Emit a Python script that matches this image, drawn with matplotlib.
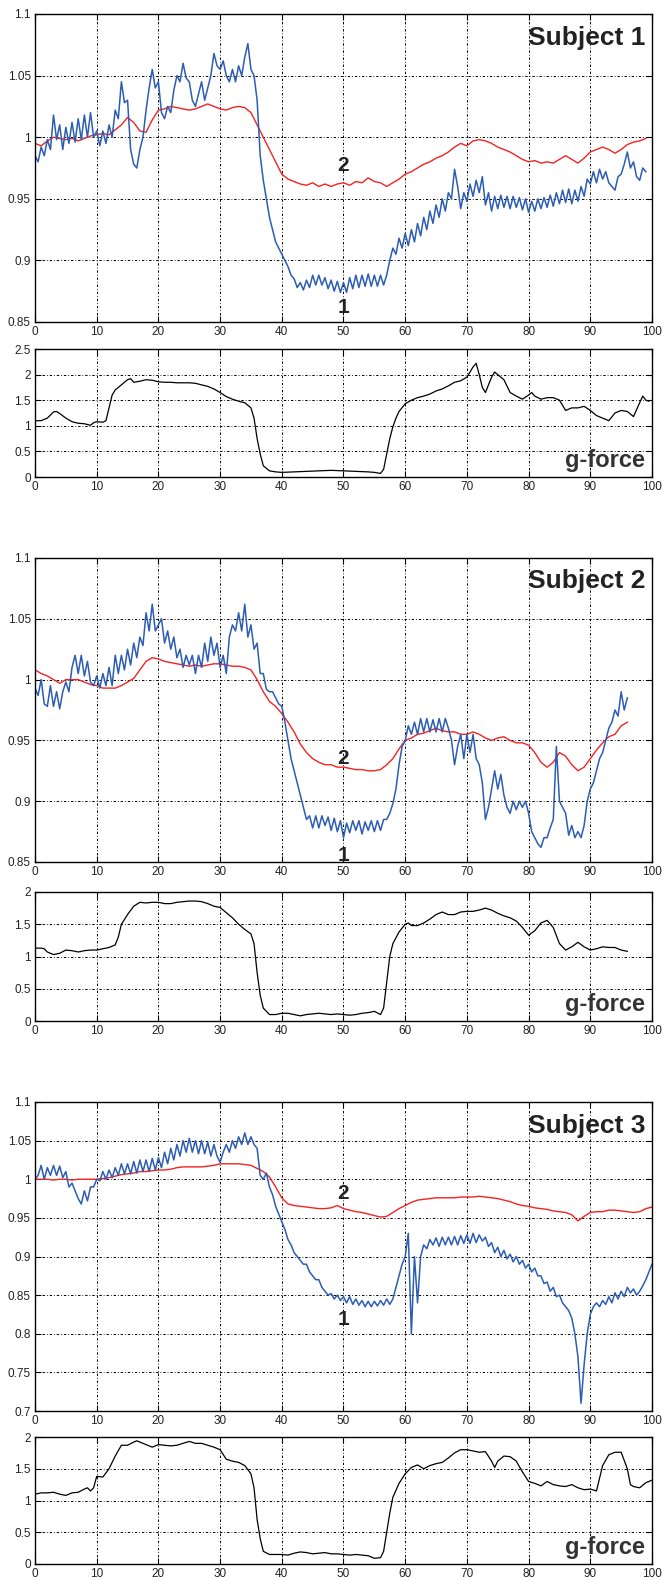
import numpy as np
import matplotlib.pyplot as plt
from matplotlib.ticker import FuncFormatter

plt.rcParams['font.family'] = ['Liberation Sans', 'DejaVu Sans']

BLUE_STEP = 0.5   # blue traces sampled every half unit
RED_STEP = 1.0

# ---------------- Subject 1 ----------------
s1_blue = [
    0.985, 0.980, 0.992, 0.985, 0.998, 0.990, 1.018, 0.998, 1.010, 0.990,
    1.008, 0.995, 1.012, 0.996, 1.015, 0.998, 1.018, 1.000, 1.020, 1.000,
    1.005, 0.993, 1.005, 0.995, 1.010, 1.000, 1.022, 1.015, 1.045, 1.028,
    1.030, 0.990, 0.978, 0.975, 0.990, 1.000, 1.022, 1.040, 1.055, 1.040,
    1.045, 1.020, 1.015, 1.025, 1.020, 1.038, 1.050, 1.045, 1.060, 1.048,
    1.045, 1.030, 1.025, 1.035, 1.045, 1.030, 1.040, 1.050, 1.068, 1.058,
    1.055, 1.062, 1.050, 1.045, 1.055, 1.045, 1.058, 1.050, 1.065, 1.076,
    1.055, 1.050, 1.030, 0.985, 0.965, 0.950, 0.935, 0.925, 0.915, 0.910,
    0.905, 0.900, 0.895, 0.888, 0.885, 0.878, 0.882, 0.876, 0.884, 0.878,
    0.888, 0.880, 0.888, 0.880, 0.886, 0.877, 0.884, 0.875, 0.883, 0.874,
    0.882, 0.874, 0.886, 0.877, 0.888, 0.878, 0.888, 0.879, 0.889, 0.879,
    0.888, 0.879, 0.888, 0.880, 0.888, 0.900, 0.910, 0.905, 0.918, 0.910,
    0.922, 0.912, 0.925, 0.915, 0.930, 0.920, 0.935, 0.925, 0.940, 0.930,
    0.945, 0.935, 0.950, 0.940, 0.955, 0.950, 0.974, 0.960, 0.942, 0.955,
    0.948, 0.962, 0.952, 0.965, 0.955, 0.968, 0.945, 0.955, 0.940, 0.952,
    0.942, 0.953, 0.943, 0.952, 0.942, 0.952, 0.943, 0.951, 0.941, 0.950,
    0.939, 0.948, 0.940, 0.950, 0.942, 0.951, 0.943, 0.953, 0.944, 0.955,
    0.946, 0.957, 0.947, 0.958, 0.946, 0.957, 0.948, 0.960, 0.952, 0.966,
    0.962, 0.972, 0.963, 0.974, 0.966, 0.972, 0.963, 0.960, 0.957, 0.968,
    0.970, 0.978, 0.988, 0.975, 0.980, 0.968, 0.965, 0.975, 0.972,
]
s1_red = [
    0.995, 0.993, 0.997, 1.000, 0.999, 0.998, 0.999, 0.997, 0.999, 1.001,
    1.002, 1.003, 1.002, 1.006, 1.010, 1.016, 1.012, 1.005, 1.004, 1.014,
    1.022, 1.023, 1.025, 1.024, 1.023, 1.022, 1.023, 1.025, 1.027, 1.025,
    1.023, 1.022, 1.024, 1.025, 1.024, 1.020, 1.010, 1.000, 0.990, 0.980,
    0.970, 0.966, 0.964, 0.962, 0.961, 0.963, 0.960, 0.962, 0.960, 0.962,
    0.963, 0.961, 0.964, 0.963, 0.967, 0.964, 0.963, 0.960, 0.963, 0.966,
    0.970, 0.972, 0.975, 0.978, 0.980, 0.983, 0.985, 0.988, 0.992, 0.995,
    0.993, 0.997, 0.998, 0.997, 0.995, 0.992, 0.990, 0.988, 0.985, 0.982,
    0.980, 0.981, 0.979, 0.980, 0.979, 0.982, 0.985, 0.982, 0.979, 0.983,
    0.988, 0.990, 0.992, 0.990, 0.987, 0.990, 0.994, 0.996, 0.997, 0.999,
]
s1_g = [
    (0, 1.10), (1, 1.10), (2, 1.15), (3, 1.27), (3.5, 1.28), (4, 1.24),
    (5, 1.15), (6, 1.08), (7, 1.05), (8, 1.04), (9, 1.01), (9.5, 1.06),
    (10, 1.08), (11, 1.07), (11.5, 1.10), (12, 1.35), (12.5, 1.60),
    (13, 1.70), (14, 1.80), (15, 1.90), (15.5, 1.92), (16, 1.85),
    (17, 1.87), (18, 1.90), (19, 1.89), (20, 1.86), (21, 1.85), (22, 1.85),
    (23, 1.84), (24, 1.84), (25, 1.84), (26, 1.83), (27, 1.80), (28, 1.77),
    (29, 1.72), (30, 1.65), (31, 1.57), (32, 1.52), (33, 1.48), (34, 1.45),
    (35, 1.35), (35.5, 1.15), (36, 0.75), (36.5, 0.45), (37, 0.22),
    (38, 0.12), (39, 0.10), (40, 0.09), (42, 0.10), (44, 0.11), (46, 0.12),
    (48, 0.13), (50, 0.12), (52, 0.11), (54, 0.10), (55, 0.09), (56, 0.07),
    (56.5, 0.15), (57, 0.45), (57.5, 0.75), (58, 0.98), (58.5, 1.15),
    (59, 1.28), (60, 1.43), (61, 1.50), (62, 1.55), (63, 1.58), (64, 1.62),
    (65, 1.68), (66, 1.72), (67, 1.78), (68, 1.85), (69, 1.88), (70, 1.95),
    (71, 2.15), (71.5, 2.22), (72, 2.00), (72.5, 1.75), (73, 1.65),
    (74, 1.95), (74.5, 2.05), (75, 2.00), (76, 1.90), (77, 1.65),
    (78, 1.58), (79, 1.52), (80, 1.60), (80.5, 1.65), (81, 1.58),
    (82, 1.52), (83, 1.55), (84, 1.55), (85, 1.50), (86, 1.30), (87, 1.35),
    (88, 1.35), (89, 1.38), (90, 1.30), (91, 1.20), (92, 1.15), (93, 1.10),
    (94, 1.25), (95, 1.30), (96, 1.28), (97, 1.18), (98, 1.45),
    (98.5, 1.58), (99, 1.50), (99.5, 1.48),
]

# ---------------- Subject 2 ----------------
s2_blue = [
    0.993, 0.987, 1.000, 0.980, 0.978, 0.995, 0.978, 0.990, 0.976, 0.990,
    0.998, 0.990, 1.010, 1.020, 1.005, 1.020, 1.003, 1.015, 0.998, 0.995,
    1.003, 0.993, 1.005, 0.995, 1.010, 0.995, 1.020, 1.005, 1.020, 1.008,
    1.025, 1.012, 1.030, 1.018, 1.035, 1.028, 1.055, 1.040, 1.062, 1.040,
    1.045, 1.050, 1.030, 1.040, 1.025, 1.035, 1.018, 1.025, 1.010, 1.020,
    1.012, 1.020, 1.005, 1.020, 1.010, 1.030, 1.015, 1.035, 1.020, 1.030,
    1.010, 1.020, 1.005, 1.035, 1.045, 1.040, 1.055, 1.040, 1.062, 1.035,
    1.045, 1.025, 1.030, 1.005, 1.005, 0.992, 0.990, 0.990, 0.985, 0.980,
    0.978, 0.965, 0.950, 0.935, 0.925, 0.915, 0.905, 0.895, 0.885, 0.888,
    0.878, 0.888, 0.878, 0.888, 0.880, 0.887, 0.876, 0.886, 0.875, 0.884,
    0.870, 0.882, 0.874, 0.884, 0.876, 0.884, 0.873, 0.883, 0.876, 0.884,
    0.875, 0.884, 0.876, 0.885, 0.885, 0.890, 0.898, 0.910, 0.930, 0.945,
    0.950, 0.962, 0.955, 0.965, 0.955, 0.968, 0.957, 0.968, 0.957, 0.967,
    0.957, 0.968, 0.957, 0.968, 0.960, 0.950, 0.930, 0.945, 0.955, 0.935,
    0.955, 0.940, 0.955, 0.935, 0.930, 0.915, 0.885, 0.895, 0.910, 0.925,
    0.910, 0.922, 0.905, 0.895, 0.890, 0.900, 0.893, 0.900, 0.895, 0.900,
    0.890, 0.875, 0.870, 0.865, 0.862, 0.870, 0.870, 0.878, 0.885, 0.945,
    0.900, 0.895, 0.890, 0.872, 0.880, 0.870, 0.875, 0.870, 0.880, 0.900,
    0.910, 0.915, 0.925, 0.935, 0.940, 0.950, 0.960, 0.965, 0.975, 0.970,
    0.990, 0.975, 0.985,
]
s2_red = [
    1.008, 1.005, 1.003, 1.000, 0.997, 1.000, 1.000, 1.000, 0.998, 0.996,
    0.995, 0.993, 0.993, 0.993, 0.995, 0.998, 1.001, 1.008, 1.015, 1.018,
    1.017, 1.015, 1.014, 1.013, 1.012, 1.011, 1.012, 1.011, 1.012, 1.013,
    1.013, 1.012, 1.011, 1.011, 1.010, 1.008, 1.000, 0.990, 0.982, 0.978,
    0.972, 0.965, 0.957, 0.947, 0.940, 0.935, 0.932, 0.930, 0.930, 0.928,
    0.928, 0.927, 0.926, 0.926, 0.925, 0.925, 0.926, 0.930, 0.935, 0.943,
    0.950, 0.952, 0.955, 0.956, 0.958, 0.960, 0.958, 0.957, 0.957, 0.955,
    0.955, 0.957, 0.955, 0.952, 0.950, 0.952, 0.953, 0.950, 0.948, 0.948,
    0.946, 0.940, 0.932, 0.928, 0.932, 0.940, 0.937, 0.930, 0.925, 0.928,
    0.935, 0.942, 0.948, 0.953, 0.955, 0.962, 0.965,
]
s2_g = [
    (0, 1.13), (1, 1.13), (1.5, 1.12), (2, 1.07), (3, 1.03), (4, 1.05),
    (5, 1.10), (6, 1.09), (7, 1.07), (8, 1.09), (9, 1.10), (10, 1.10),
    (11, 1.12), (12, 1.14), (13, 1.18), (13.5, 1.30), (14, 1.50),
    (15, 1.65), (16, 1.78), (17, 1.84), (18, 1.83), (19, 1.84), (20, 1.84),
    (21, 1.82), (22, 1.82), (23, 1.84), (24, 1.85), (25, 1.86), (26, 1.86),
    (27, 1.85), (28, 1.82), (29, 1.78), (30, 1.76), (31, 1.68), (32, 1.60),
    (33, 1.50), (34, 1.42), (35, 1.35), (35.5, 1.20), (36, 0.75),
    (36.5, 0.40), (37, 0.20), (38, 0.10), (39, 0.10), (40, 0.12),
    (41, 0.12), (42, 0.10), (43, 0.08), (44, 0.10), (45, 0.11), (46, 0.12),
    (47, 0.11), (48, 0.10), (49, 0.11), (50, 0.10), (51, 0.09), (52, 0.10),
    (53, 0.12), (54, 0.13), (55, 0.15), (56, 0.10), (56.5, 0.20),
    (57, 0.60), (57.5, 1.00), (58, 1.20), (59, 1.38), (60, 1.50),
    (60.5, 1.52), (61, 1.48), (62, 1.48), (63, 1.52), (64, 1.58),
    (65, 1.65), (66, 1.69), (67, 1.65), (68, 1.65), (69, 1.69), (70, 1.70),
    (71, 1.70), (72, 1.72), (73, 1.75), (74, 1.72), (75, 1.67), (76, 1.63),
    (77, 1.60), (78, 1.55), (79, 1.45), (80, 1.33), (81, 1.40), (82, 1.52),
    (83, 1.56), (84, 1.45), (85, 1.20), (86, 1.10), (87, 1.15), (88, 1.22),
    (89, 1.15), (90, 1.10), (91, 1.12), (92, 1.15), (93, 1.14), (94, 1.14),
    (95, 1.10), (96, 1.08),
]

# ---------------- Subject 3 ----------------
s3_blue = [
    1.000, 1.005, 1.018, 1.000, 1.015, 1.005, 1.018, 1.005, 1.017, 1.002,
    1.010, 0.990, 0.995, 0.985, 0.975, 0.968, 0.985, 0.972, 0.990, 0.990,
    1.000, 0.998, 1.010, 1.000, 1.012, 1.002, 1.015, 1.005, 1.020, 1.007,
    1.020, 1.007, 1.023, 1.008, 1.025, 1.010, 1.025, 1.010, 1.027, 1.012,
    1.028, 1.015, 1.035, 1.020, 1.040, 1.025, 1.045, 1.030, 1.050, 1.035,
    1.053, 1.035, 1.050, 1.033, 1.050, 1.033, 1.048, 1.030, 1.045, 1.030,
    1.022, 1.035, 1.045, 1.035, 1.050, 1.040, 1.055, 1.045, 1.060, 1.045,
    1.055, 1.045, 1.040, 1.005, 1.000, 1.008, 0.990, 0.980, 0.965, 0.955,
    0.945, 0.935, 0.922, 0.915, 0.905, 0.900, 0.895, 0.890, 0.890, 0.880,
    0.875, 0.870, 0.870, 0.860, 0.855, 0.850, 0.852, 0.845, 0.850, 0.843,
    0.848, 0.840, 0.848, 0.838, 0.845, 0.837, 0.843, 0.835, 0.842, 0.835,
    0.842, 0.836, 0.843, 0.837, 0.845, 0.838, 0.845, 0.860, 0.875, 0.890,
    0.900, 0.930, 0.800, 0.900, 0.840, 0.900, 0.915, 0.910, 0.922, 0.915,
    0.924, 0.913, 0.925, 0.915, 0.925, 0.915, 0.926, 0.915, 0.927, 0.917,
    0.928, 0.917, 0.930, 0.918, 0.928, 0.920, 0.925, 0.913, 0.918, 0.905,
    0.912, 0.900, 0.908, 0.897, 0.903, 0.893, 0.900, 0.890, 0.895, 0.885,
    0.890, 0.880, 0.885, 0.875, 0.875, 0.865, 0.867, 0.855, 0.860, 0.848,
    0.850, 0.840, 0.835, 0.830, 0.820, 0.800, 0.770, 0.710, 0.760, 0.800,
    0.825, 0.835, 0.840, 0.835, 0.843, 0.838, 0.848, 0.840, 0.853, 0.845,
    0.855, 0.848, 0.860, 0.853, 0.858, 0.850, 0.855, 0.862, 0.870, 0.880,
    0.890,
]
s3_red = [
    1.000, 1.000, 1.000, 0.999, 1.000, 1.000, 0.999, 1.000, 1.000, 1.000,
    1.000, 1.001, 1.002, 1.004, 1.006, 1.007, 1.008, 1.010, 1.010, 1.011,
    1.012, 1.012, 1.013, 1.015, 1.016, 1.016, 1.016, 1.016, 1.017, 1.018,
    1.020, 1.020, 1.020, 1.020, 1.019, 1.018, 1.014, 1.010, 1.003, 0.990,
    0.976, 0.968, 0.966, 0.965, 0.964, 0.963, 0.962, 0.962, 0.963, 0.966,
    0.962, 0.960, 0.958, 0.957, 0.955, 0.953, 0.951, 0.952, 0.957, 0.962,
    0.966, 0.970, 0.973, 0.974, 0.975, 0.976, 0.976, 0.976, 0.976, 0.977,
    0.977, 0.977, 0.978, 0.977, 0.976, 0.975, 0.973, 0.971, 0.968, 0.966,
    0.965, 0.963, 0.962, 0.961, 0.959, 0.958, 0.957, 0.954, 0.946, 0.952,
    0.957, 0.958, 0.958, 0.960, 0.960, 0.959, 0.958, 0.957, 0.958, 0.962,
    0.964,
]
s3_g = [
    (0, 1.10), (1, 1.12), (2, 1.12), (3, 1.13), (4, 1.10), (5, 1.08),
    (6, 1.12), (7, 1.13), (8, 1.18), (8.5, 1.20), (9, 1.15), (9.5, 1.20),
    (10, 1.38), (11, 1.37), (12, 1.50), (13, 1.70), (14, 1.87), (15, 1.87),
    (16, 1.92), (16.5, 1.94), (17, 1.92), (18, 1.88), (19, 1.84),
    (20, 1.88), (21, 1.87), (22, 1.86), (23, 1.87), (24, 1.90), (25, 1.93),
    (26, 1.90), (27, 1.90), (28, 1.87), (29, 1.84), (30, 1.80), (31, 1.65),
    (32, 1.62), (33, 1.60), (34, 1.55), (35, 1.42), (35.5, 1.20),
    (36, 0.70), (36.5, 0.40), (37, 0.20), (38, 0.15), (39, 0.15),
    (40, 0.15), (41, 0.14), (42, 0.17), (43, 0.19), (44, 0.18), (45, 0.16),
    (46, 0.17), (47, 0.18), (48, 0.16), (49, 0.16), (50, 0.15), (51, 0.14),
    (52, 0.15), (53, 0.14), (54, 0.13), (55, 0.09), (56, 0.10),
    (56.5, 0.20), (57, 0.50), (57.5, 0.80), (58, 1.05), (59, 1.27),
    (60, 1.42), (61, 1.52), (62, 1.56), (63, 1.50), (64, 1.55), (65, 1.58),
    (66, 1.60), (67, 1.67), (68, 1.75), (69, 1.80), (70, 1.80), (71, 1.78),
    (72, 1.76), (73, 1.77), (74, 1.62), (74.5, 1.52), (75, 1.62),
    (76, 1.70), (77, 1.69), (78, 1.62), (79, 1.45), (80, 1.30), (81, 1.27),
    (82, 1.23), (83, 1.30), (84, 1.25), (85, 1.23), (86, 1.22), (87, 1.25),
    (88, 1.20), (89, 1.17), (90, 1.18), (91, 1.15), (91.5, 1.35),
    (92, 1.55), (93, 1.72), (94, 1.76), (95, 1.76), (96, 1.50),
    (96.5, 1.25), (97, 1.22), (98, 1.20), (99, 1.28), (100, 1.32),
]

titles = ["Subject 1", "Subject 2", "Subject 3"]
main_ylims = [(0.85, 1.1), (0.85, 1.1), (0.7, 1.1)]
g_ylims = [(0, 2.5), (0, 2), (0, 2)]
# label positions for the "1"/"2" curve markers (x, y of "2", y of "1")
curve_labels = [(50, 0.977, 0.862), (50, 0.935, 0.855), (50, 0.981, 0.818)]
xticks = list(range(0, 101, 10))

W, H = 662, 1580
# pixel boxes (top, bottom) of each panel
main_boxes = [(14, 322), (558, 862), (1102, 1411)]
g_boxes = [(349, 477), (892, 1021), (1437, 1564)]
X0, X1 = 35, 652

C_BLUE = '#2c5db3'
C_RED = '#f42222'
TXT = '#222222'
fmt = FuncFormatter(lambda v, p: f"{round(v, 3):g}")


def style(ax, ylim, ystep):
    ax.set_xlim(0, 100)
    ax.set_ylim(*ylim)
    ax.set_xticks(xticks)
    ax.set_yticks(np.arange(ylim[0], ylim[1] + 1e-9, ystep))
    ax.xaxis.set_major_formatter(fmt)
    ax.yaxis.set_major_formatter(fmt)
    ax.tick_params(direction='in', length=4, width=0.8, top=True, right=True,
                   labelsize=8.5, labelcolor=TXT, pad=3)
    ax.grid(True, color='black', linewidth=0.7, linestyle=(0, (2.5, 2, 0.8, 2)))
    ax.set_axisbelow(True)
    for s in ax.spines.values():
        s.set_linewidth(1.0)
        s.set_color('black')


def add_box(fig, box):
    top, bot = box
    return fig.add_axes([X0 / W, 1 - bot / H, (X1 - X0) / W, (bot - top) / H])


fig = plt.figure(figsize=(W / 100, H / 100), dpi=100)

blues = [s1_blue, s2_blue, s3_blue]
reds = [s1_red, s2_red, s3_red]
gs = [s1_g, s2_g, s3_g]

for i in range(3):
    ax = add_box(fig, main_boxes[i])
    style(ax, main_ylims[i], 0.05)
    b = np.array(blues[i])
    r = np.array(reds[i])
    ax.plot(np.arange(len(r)) * RED_STEP, r, color=C_RED, lw=1.0)
    ax.plot(np.arange(len(b)) * BLUE_STEP, b, color=C_BLUE, lw=1.1)
    ax.text(0.99, 0.9, titles[i], transform=ax.transAxes, ha='right',
            va='baseline', fontsize=19, fontweight='bold', color=TXT)
    lx, y2, y1 = curve_labels[i]
    ax.text(lx, y2, "2", ha='center', va='center', fontsize=15,
            fontweight='bold', color=TXT)
    ax.text(lx, y1, "1", ha='center', va='center', fontsize=15,
            fontweight='bold', color=TXT)

    gax = add_box(fig, g_boxes[i])
    style(gax, g_ylims[i], 0.5)
    gx, gy = zip(*gs[i])
    gax.plot(gx, gy, color='black', lw=0.9)
    gax.text(0.989, 0.075, "g-force", transform=gax.transAxes, ha='right',
             va='baseline', fontsize=17, fontweight='bold', color='#333333')

fig.savefig('out.png', dpi=100)
